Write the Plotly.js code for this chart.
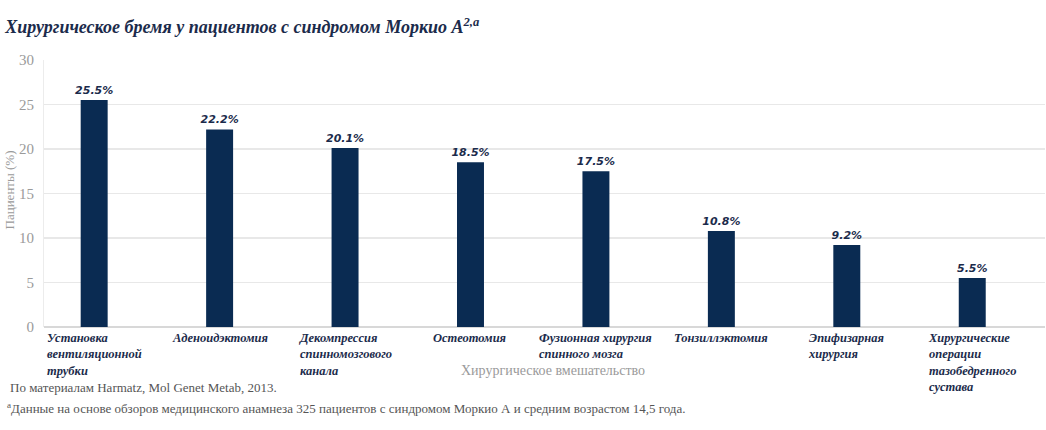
<!DOCTYPE html>
<html>
<head>
<meta charset="utf-8">
<script src="https://cdn.plot.ly/plotly-3.0.1.min.js"></script>
<style>html,body{margin:0;padding:0;background:#fff;}#chart{width:1046px;height:430px;}</style>
</head>
<body>
<div id="chart"></div>
<script>
const categories = [
  "Установка<br>вентиляционной<br>трубки",
  "Аденоидэктомия",
  "Декомпрессия<br>спинномозгового<br>канала",
  "Остеотомия",
  "Фузионная хирургия<br>спинного мозга",
  "Тонзиллэктомия",
  "Эпифизарная<br>хирургия",
  "Хирургические<br>операции<br>тазобедренного<br>сустава"
];
const patientsPct = [25.5, 22.2, 20.1, 18.5, 17.5, 10.8, 9.2, 5.5];
const yTicks = [0, 5, 10, 15, 20, 25, 30];
const titleText = "Хирургическое бремя у пациентов с синдромом Моркио А<sup>2,a</sup>";
const xTitle = "Хирургическое вмешательство";
const yTitle = "Пациенты (%)";
const footnotes = [
  "По материалам Harmatz, Mol Genet Metab, 2013.",
  "<sup>a</sup>Данные на основе обзоров медицинского анамнеза 325 пациентов с синдромом Моркио А и средним возрастом 14,5 года."
];

const navy = "#0a2b52";
const textNavy = "#1b2b4b";
const serif = "Liberation Serif";

const trace = {
  type: "bar",
  x: categories.map((c, i) => i),
  y: patientsPct,
  width: 0.215,
  marker: {color: navy},
  text: patientsPct.map(v => v.toFixed(1) + "%"),
  textposition: "outside",
  constraintext: "none",
  cliponaxis: false,
  textfont: {family: "DejaVu Sans", size: 11, color: textNavy, weight: "bold", style: "italic"},
  hoverinfo: "skip"
};

const annotations = [];
categories.forEach((c, i) => {
  annotations.push({
    xref: "x", yref: "paper", x: i, y: 0, yanchor: "top", xanchor: "center",
    yshift: -3, text: c, showarrow: false, align: "left", borderpad: 0,
    font: {family: serif, size: 12.5, color: textNavy, weight: "bold", style: "italic"}
  });
});
annotations.push({
  xref: "paper", yref: "paper", x: 0.5085, y: -0.163, yanchor: "middle", xanchor: "center",
  text: xTitle, showarrow: false, font: {family: serif, size: 14, color: "#9a9a9a"}
});
annotations.push({
  xref: "paper", yref: "paper", x: -0.034, y: 0.515, yanchor: "middle", xanchor: "center",
  text: yTitle, textangle: -90, showarrow: false, font: {family: serif, size: 13, color: "#9a9a9a"}
});
annotations.push({
  xref: "paper", yref: "paper", x: -0.036, y: -0.228, yanchor: "middle", xanchor: "left",
  text: footnotes[0], showarrow: false, font: {family: serif, size: 13, color: "#555"}
});
annotations.push({
  xref: "paper", yref: "paper", x: -0.039, y: -0.303, yanchor: "middle", xanchor: "left",
  text: footnotes[1], showarrow: false, font: {family: serif, size: 13, color: "#555"}
});

const layout = {
  width: 1046, height: 430,
  margin: {l: 44, r: 1, t: 60, b: 103},
  paper_bgcolor: "#fff", plot_bgcolor: "#fff",
  showlegend: false,
  title: {
    text: titleText, xref: "container", yref: "container", x: 0.005, xanchor: "left",
    y: 0.937, yanchor: "middle",
    font: {family: serif, size: 18, color: textNavy, weight: "bold", style: "italic"}
  },
  xaxis: {
    range: [-0.4, 7.58], showticklabels: false, showgrid: false, zeroline: false,
    showline: false, ticks: "", fixedrange: true
  },
  yaxis: {
    range: [0, 30], tickvals: yTicks, ticktext: yTicks.map(String),
    showgrid: true, gridcolor: "#e8e8e8", gridwidth: 1.5,
    zeroline: true, zerolinecolor: "#d8d8d8", zerolinewidth: 1.5,
    showline: true, linecolor: "#ececec", linewidth: 1,
    ticks: "", ticklabelstandoff: 6,
    tickfont: {family: serif, size: 15, color: "#9a9a9a"}
  },
  annotations: annotations,
  bargap: 0.8
};

Plotly.newPlot("chart", [trace], layout, {displayModeBar: false, staticPlot: true});
</script>
</body>
</html>
